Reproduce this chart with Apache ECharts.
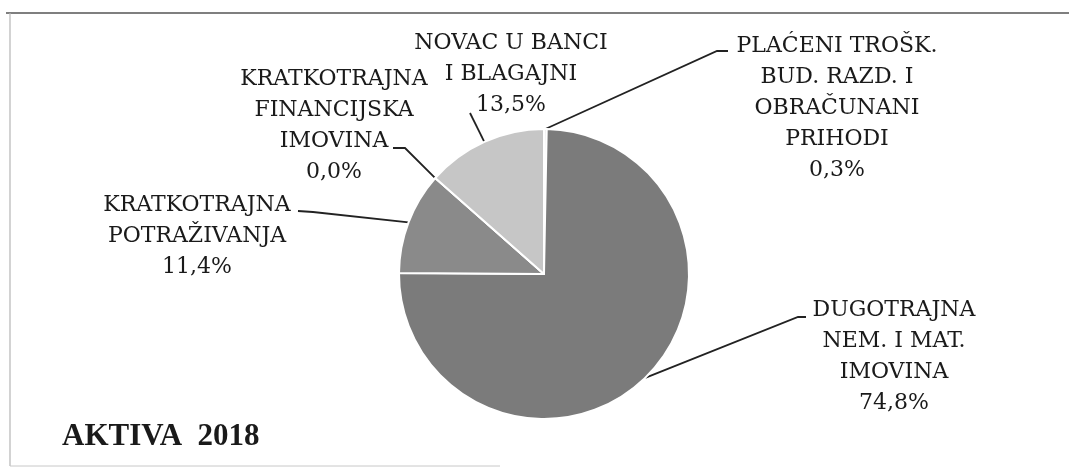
<!DOCTYPE html>
<html>
<head>
<meta charset="utf-8">
<script src="https://cdn.jsdelivr.net/npm/echarts@6/dist/echarts.min.js"></script>
<style>
    html, body {margin: 0; padding: 0; background: #fff;}
    #chart {width: 1069px; height: 468px;}
</style>
</head>
<body>
<div id="chart"></div>
<script>
// slices, clockwise from 12 o'clock
const categories = [
    'PLAĆENI TROŠK.\nBUD. RAZD. I\nOBRAČUNANI\nPRIHODI',
    'DUGOTRAJNA\nNEM. I MAT.\nIMOVINA',
    'KRATKOTRAJNA\nPOTRAŽIVANJA',
    'KRATKOTRAJNA\nFINANCIJSKA\nIMOVINA',
    'NOVAC U BANCI\nI BLAGAJNI'
];
const shares = [0.3, 74.8, 11.4, 0.0, 13.5];
const sliceColors = ['#e2e2e2', '#7b7b7b', '#8a8a8a', '#a8a8a8', '#c6c6c6'];
const chartTitle = 'AKTIVA  2018';

// label block centres and leader line bends (px), same order as categories
const labelSpots = [
    {x: 837, y: 108, bend: [717, 51], end: [728, 51]},
    {x: 894, y: 357, bend: [798, 317], end: [806, 317]},
    {x: 197, y: 236, bend: [313, 212], end: [298, 211]},
    {x: 334, y: 126, bend: [405, 148], end: [393, 148]},
    {x: 511, y: 74, bend: null, end: [470, 113]}
];

const pieData = categories.map((name, i) => ({
    name: name,
    value: shares[i],
    itemStyle: {color: sliceColors[i]}
}));

const chart = echarts.init(document.getElementById('chart'), null, {renderer: 'canvas'});

chart.setOption({
    animation: false,
    backgroundColor: '#fff',
    title: {
        text: chartTitle,
        left: 57,
        top: 416,
        textStyle: {
            fontFamily: 'Liberation Serif',
            fontWeight: 'bold',
            fontSize: 31,
            color: '#1a1a1a'
        }
    },
    graphic: [
        // scanned frame edges
        {type: 'line', shape: {x1: 6, y1: 13, x2: 1069, y2: 13}, style: {stroke: '#555', lineWidth: 1.5}},
        {type: 'line', shape: {x1: 10, y1: 13, x2: 10, y2: 466}, style: {stroke: '#b5b5b5', lineWidth: 1.2}},
        {type: 'line', shape: {x1: 10, y1: 466, x2: 500, y2: 466}, style: {stroke: '#c8c8c8', lineWidth: 1}}
    ],
    series: [{
        type: 'pie',
        center: [544, 274],
        radius: 145,
        startAngle: 90,
        clockwise: true,
        silent: true,
        avoidLabelOverlap: false,
        itemStyle: {borderColor: '#fff', borderWidth: 2},
        label: {
            show: true,
            position: 'outside',
            alignTo: 'none',
            fontFamily: 'DejaVu Serif',
            fontSize: 22,
            lineHeight: 31,
            color: '#1a1a1a',
            formatter: p => p.name + '\n' + p.value.toFixed(1).replace('.', ',') + '%'
        },
        labelLine: {
            show: true,
            length: 10,
            length2: 10,
            lineStyle: {color: '#222', width: 1.8}
        },
        labelLayout: function (params) {
            const spot = labelSpots[params.dataIndex];
            const out = {x: spot.x, y: spot.y, align: 'center', verticalAlign: 'middle'};
            const pts = params.labelLinePoints;
            if (pts && pts.length) {
                out.labelLinePoints = spot.bend
                    ? [pts[0], spot.bend, spot.end]
                    : [pts[0], spot.end];
            }
            return out;
        },
        data: pieData
    }]
});
</script>
</body>
</html>
